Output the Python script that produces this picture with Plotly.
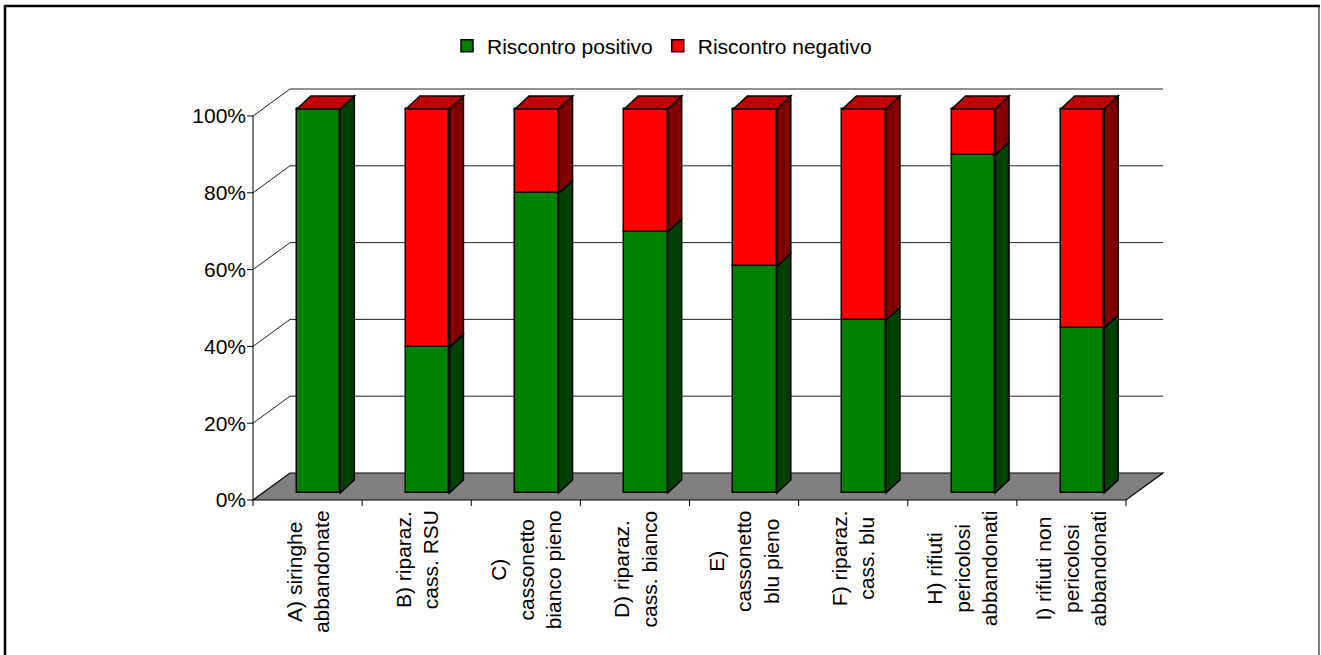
import plotly.graph_objects as go

# ---- data -------------------------------------------------------------
categories = [
    "A) siringhe<br>abbandonate",
    "B) riparaz.<br>cass. RSU",
    "C)<br>cassonetto<br>bianco pieno",
    "D) riparaz.<br>cass. bianco",
    "E)<br>cassonetto<br>blu pieno",
    "F) riparaz.<br>cass. blu",
    "H) rifiuti<br>pericolosi<br>abbandonati",
    "I) rifiuti non<br>pericolosi<br>abbandonati",
]
positivo = [100, 38, 78, 68, 59, 45, 88, 43]
negativo = [0, 62, 22, 32, 41, 55, 12, 57]
series_names = ["Riscontro positivo", "Riscontro negativo"]
y_ticks = [0, 20, 40, 60, 80, 100]
y_ticktext = ["0%", "20%", "40%", "60%", "80%", "100%"]

# ---- geometry (pixel scale of the pseudo-3D box) -----------------------
W, H = 1321, 655
PX_CAT = 109.125          # pixels per category slot
PX_PCT = 3.84             # pixels per percent
FRONT_X, FRONT_Y = 253, 500
M_L, M_R, M_T, M_B = 247, 150, 83, 148

X_MIN = -(FRONT_X - M_L) / PX_CAT
X_MAX = (W - M_R - FRONT_X) / PX_CAT
Y_MAX = (FRONT_Y - M_T) / PX_PCT
Y_MIN = -((H - M_B) - FRONT_Y) / PX_PCT

WALL_DX = 37 / PX_CAT     # depth of floor / walls
WALL_DY = 27 / PX_PCT
BAR_DX = 14 / PX_CAT      # depth of each column
BAR_DY = 13 / PX_PCT
BAR_W = 43.5 / PX_CAT
BAR_SHIFT = 11 / PX_CAT
BAR_BASE = 7 / PX_PCT
TICK_X = 6 / PX_CAT
TICK_Y = 6 / PX_PCT

GREEN, GREEN_SIDE = "#008000", "#004000"
RED, RED_SIDE, RED_TOP = "#FF0000", "#800000", "#C00000"
FONT = "Liberation Sans, Arial, sans-serif"
FONT_SIZE = 21
n = len(categories)


def poly(pts):
    return "M " + " L ".join(f"{x},{y}" for x, y in pts) + " Z"


shapes = []

# floor
shapes.append(dict(type="path", xref="x", yref="y", layer="below",
                   path=poly([(0, 0), (n, 0), (n + WALL_DX, WALL_DY), (WALL_DX, WALL_DY)]),
                   fillcolor="#808080", line=dict(color="black", width=1.2)))
# back wall gridlines and side-wall diagonals
for v in y_ticks[1:]:
    shapes.append(dict(type="line", xref="x", yref="y", layer="below",
                       x0=WALL_DX, x1=n + WALL_DX, y0=v + WALL_DY, y1=v + WALL_DY,
                       line=dict(color="#222222", width=1)))
    shapes.append(dict(type="line", xref="x", yref="y", layer="below",
                       x0=0, x1=WALL_DX, y0=v, y1=v + WALL_DY,
                       line=dict(color="#222222", width=1)))
# front value axis and its ticks
shapes.append(dict(type="line", xref="x", yref="y", x0=0, x1=0, y0=0, y1=100,
                   line=dict(color="black", width=1)))
for v in y_ticks:
    shapes.append(dict(type="line", xref="x", yref="y", x0=-TICK_X, x1=0, y0=v, y1=v,
                       line=dict(color="black", width=1)))
# category ticks under the floor
for k in range(n + 1):
    shapes.append(dict(type="line", xref="x", yref="y", x0=k, x1=k, y0=0, y1=-TICK_Y,
                       line=dict(color="black", width=1)))

# column sides and tops
for i in range(n):
    xl = i + 0.5 + BAR_SHIFT - BAR_W / 2
    xr = xl + BAR_W
    segs = [(BAR_BASE, BAR_BASE + positivo[i], GREEN_SIDE),
            (BAR_BASE + positivo[i], BAR_BASE + positivo[i] + negativo[i], RED_SIDE)]
    for y0, y1, col in segs:
        if y1 - y0 <= 0:
            continue
        shapes.append(dict(type="path", xref="x", yref="y", layer="above",
                           path=poly([(xr, y0), (xr + BAR_DX, y0 + BAR_DY),
                                      (xr + BAR_DX, y1 + BAR_DY), (xr, y1)]),
                           fillcolor=col, line=dict(color="black", width=1.5)))
    top = BAR_BASE + positivo[i] + negativo[i]
    shapes.append(dict(type="path", xref="x", yref="y", layer="above",
                       path=poly([(xl, top), (xl + BAR_DX, top + BAR_DY),
                                  (xr + BAR_DX, top + BAR_DY), (xr, top)]),
                       fillcolor=RED_TOP, line=dict(color="black", width=1.5)))


# chart frame
def xp(px):
    return (px - M_L) / (W - M_L - M_R)


def yp(py):
    return ((H - M_B) - py) / (H - M_T - M_B)


frame = dict(type="line", xref="paper", yref="paper", layer="above")
shapes.append({**frame, "x0": xp(5), "x1": xp(5), "y0": yp(5), "y1": yp(670),
               "line": dict(color="black", width=2.5)})
shapes.append({**frame, "x0": xp(4), "x1": xp(1320), "y0": yp(6), "y1": yp(6),
               "line": dict(color="black", width=2.5)})
shapes.append({**frame, "x0": xp(1319), "x1": xp(1319), "y0": yp(5), "y1": yp(670),
               "line": dict(color="black", width=1)})

# front faces of the columns
xs = [i + 0.5 + BAR_SHIFT for i in range(n)]
fig = go.Figure()
fig.add_trace(go.Bar(x=xs, y=positivo, base=[BAR_BASE] * n, width=BAR_W,
                     name=series_names[0],
                     marker=dict(color=GREEN, line=dict(color="black", width=1.5))))
fig.add_trace(go.Bar(x=xs, y=negativo, base=[BAR_BASE + p for p in positivo], width=BAR_W,
                     name=series_names[1],
                     marker=dict(color=RED, line=dict(color="black", width=1.5))))

annotations = [
    dict(x=i + 0.5, y=0, xref="x", yref="y", text=lab, textangle=-90,
         showarrow=False, xanchor="center", yanchor="top", yshift=-8, align="center",
         font=dict(family=FONT, size=FONT_SIZE, color="black"))
    for i, lab in enumerate(categories)
]

fig.update_layout(
    width=W, height=H,
    margin=dict(l=M_L, r=M_R, t=M_T, b=M_B, autoexpand=False),
    paper_bgcolor="white", plot_bgcolor="white",
    barmode="overlay", bargap=0,
    font=dict(family=FONT, size=FONT_SIZE, color="black"),
    showlegend=True,
    legend=dict(orientation="h", x=xp(662), xanchor="center", y=yp(46), yanchor="middle",
                font=dict(family=FONT, size=FONT_SIZE, color="black"),
                bgcolor="rgba(0,0,0,0)", traceorder="normal", itemwidth=30),
    xaxis=dict(range=[X_MIN, X_MAX], showgrid=False, zeroline=False, showline=False,
               showticklabels=False, ticks=""),
    yaxis=dict(range=[Y_MIN, Y_MAX], showgrid=False, zeroline=False, showline=False,
               tickvals=y_ticks, ticktext=y_ticktext, ticks="",
               tickfont=dict(family=FONT, size=FONT_SIZE, color="black")),
    shapes=shapes,
    annotations=annotations,
)

fig.write_html("out.html")
